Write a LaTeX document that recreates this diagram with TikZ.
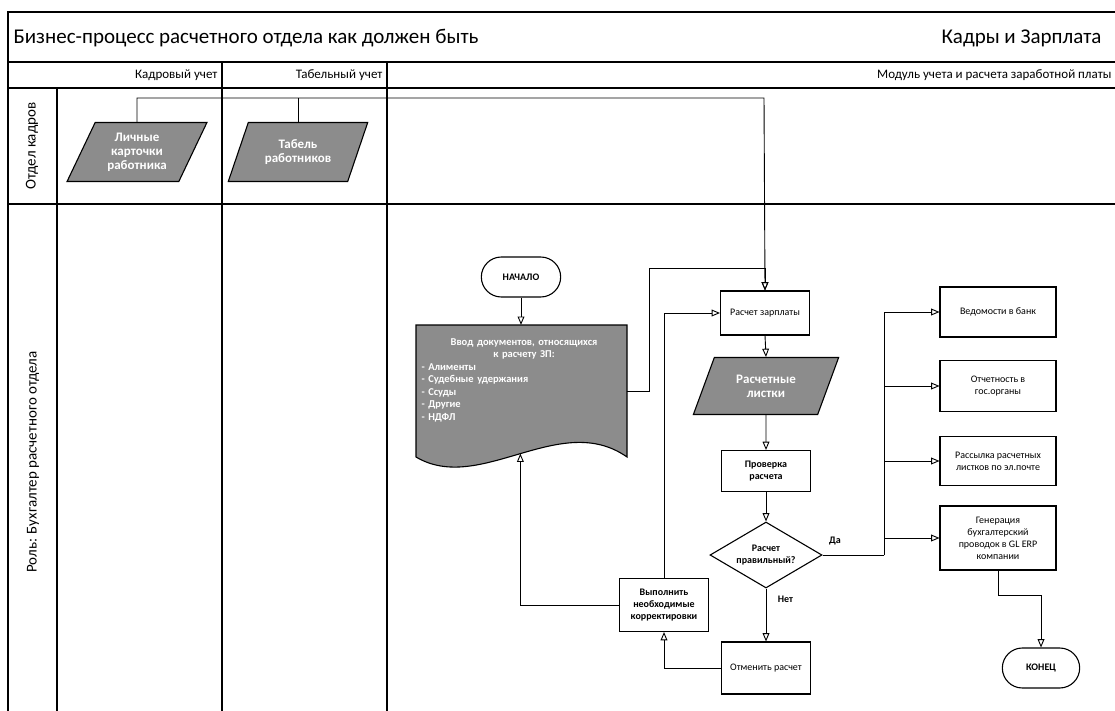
\documentclass[tikz,border=0pt]{standalone}
\usepackage{fontspec}
\setmainfont{Carlito}
\usetikzlibrary{arrows}
\usetikzlibrary{shapes}
\usetikzlibrary{calc}

\begin{document}
\begin{tikzpicture}[x=1pt,y=-1pt]
                    \tikzset{lane/.style={line width=1.3pt},
                             flow/.style={-open triangle 45,line width=0.9pt},
                             procbox/.style={draw,line width=1.1pt,fill=white,minimum width=89pt,minimum height=44pt,
                                             align=center,inner sep=2pt,font=\fontsize{10}{12}\selectfont},
                             databox/.style={trapezium,trapezium left angle=63,trapezium right angle=117,trapezium stretches=true,
                                             draw,line width=1.1pt,fill=black!45,text=white,align=center,inner sep=1pt,
                                             minimum width=140pt,minimum height=59pt,font=\bfseries\fontsize{13}{14}\selectfont},
                             termbox/.style={rounded rectangle,draw,line width=1.1pt,minimum width=86pt,minimum height=40pt,
                                             font=\bfseries\fontsize{10}{12}\selectfont},
                             decbox/.style={diamond,aspect=1.7,draw,line width=1.1pt,minimum width=112pt,minimum height=66pt,
                                             inner sep=0pt,align=center,font=\bfseries\fontsize{10}{12}\selectfont}}
                    \useasboundingbox (0,0) rectangle (1115,711);
                    \draw[lane] (8,711) -- (8,12) -- (1115,12);
                    \draw[lane] (8,62) -- (1115,62);
                    \draw[lane] (8,88) -- (1115,88);
                    \draw[lane] (8,204) -- (1115,204);
                    \draw[lane] (57,88) -- (57,711);
                    \draw[lane] (222,62) -- (222,711);
                    \draw[lane] (387,62) -- (387,711);
                    \node[anchor=west,font=\fontsize{21}{24}\selectfont] (title) at (10,38) {Бизнес-процесс расчетного отдела как должен быть};
                    \node[anchor=east,font=\fontsize{21}{24}\selectfont] (system) at (1105,38) {Кадры и Зарплата};
                    \node[anchor=east,font=\fontsize{13}{15}\selectfont] (col1) at (221,75) {Кадровый учет};
                    \node[anchor=east,font=\fontsize{13}{15}\selectfont] (col2) at (386,75) {Табельный учет};
                    \node[anchor=east,font=\fontsize{13}{15}\selectfont] (col3) at (1115,75) {Модуль учета и расчета заработной платы};
                    \node[rotate=90,font=\fontsize{15}{17}\selectfont] (lane1) at (32,146) {Отдел кадров};
                    \node[rotate=90,font=\fontsize{15}{17}\selectfont] (lane2) at (33,462) {Роль: Бухгалтер расчетного отдела};
                    \node[databox] (cards) at (137,152) {Личные\\карточки\\работника};
                    \node[databox] (sheet) at (298,152) {Табель\\работников};
                    \node[termbox] (start) at (521,277) {НАЧАЛО};
                    \filldraw[line width=1.1pt,fill=black!45] (416,325) -- (627,325) -- (627,457)
                        .. controls (560,410) and (480,495) .. coordinate[pos=0.5] (docbot) (416,457) -- cycle;
                    \node[inner sep=0pt,minimum width=211pt,minimum height=132pt] (docs) at (521,391) {};
                    \node[anchor=north west,text width=205pt,text=white,font=\bfseries\fontsize{10.5}{12.5}\selectfont] (doctext) at (418,335)
                        {\centering Ввод документов, относящихся\\к расчету ЗП:\par\raggedright
                         - Алименты\\- Судебные удержания\\- Ссуды\\- Другие\\- НДФЛ\par};
                    \node[procbox] (pay) at (765,313) {Расчет зарплаты};
                    \node[databox,minimum width=146pt,minimum height=57pt] (slips) at (766,386) {Расчетные\\листки};
                    \node[procbox,font=\bfseries\fontsize{10}{12}\selectfont,minimum height=41pt] (check) at (766,471) {Проверка\\расчета};
                    \node[decbox] (ok) at (766,555) {Расчет\\правильный?};
                    \node[procbox,minimum height=52pt] (cancel) at (766,668) {Отменить расчет};
                    \node[procbox,font=\bfseries\fontsize{10}{12}\selectfont,minimum height=53pt] (fix) at (664,605) {Выполнить\\необходимые\\корректировки};
                    \node[procbox,minimum width=116pt,minimum height=50pt] (bank) at (998,312) {Ведомости в банк};
                    \node[procbox,minimum width=116pt,minimum height=51pt] (gov) at (998,386) {Отчетность в\\гос.органы};
                    \node[procbox,minimum width=116pt,minimum height=49pt] (mail) at (998,461) {Рассылка расчетных\\листков по эл.почте};
                    \node[procbox,minimum width=116pt,minimum height=64pt] (gl) at (998,538) {Генерация\\бухгалтерский\\проводок в GL ERP\\компании};
                    \node[termbox,minimum width=84pt] (stop) at (1041,668) {КОНЕЦ};
                    \coordinate (bus) at (764,98);
                    \coordinate (back) at (649,268);
                    \coordinate (fan) at (884,555);
                    \draw[flow] (cards.north) |- (bus) -- (pay.north);
                    \draw[line width=0.9pt] (sheet.north) -- (sheet.north |- bus);
                    \draw[flow] (start.south) -- (docs.north);
                    \draw[flow] (docs.east) -| (back) -| (pay.north);
                    \draw[flow] (pay.south) -- (slips.north);
                    \draw[flow] (slips.south) -- (check.north);
                    \draw[flow] (check.south) -- (ok.north);
                    \draw[flow] (ok.south) -- node[pos=0.2,right=8pt,font=\bfseries\fontsize{10}{12}\selectfont] {Нет} (cancel.north);
                    \draw[line width=0.9pt] (ok.east) -- node[pos=0.2,above=6pt,font=\bfseries\fontsize{10}{12}\selectfont] {Да} (fan);
                    \draw[flow] (fan) |- (bank.west);
                    \draw[flow] (fan) |- (gov.west);
                    \draw[flow] (fan) |- (mail.west);
                    \draw[flow] (fan) |- (gl.west);
                    \draw[flow] (gl.south) -- ++(0,25) -| (stop.north);
                    \draw[flow] (cancel.west) -| (fix.south);
                    \draw[flow] (fix.north) |- (pay.west);
                    \draw[flow] (fix.west) -| (docbot);
                \end{tikzpicture}
\end{document}
